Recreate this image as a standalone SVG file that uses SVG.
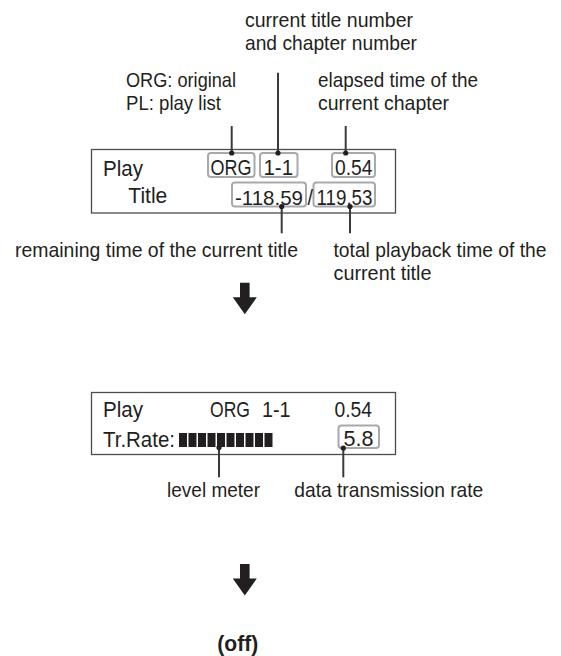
<svg xmlns="http://www.w3.org/2000/svg" width="561" height="656" viewBox="0 0 561 656">
<style>
.lbl{font-family:"Liberation Sans",Arial,sans-serif;font-size:21px;fill:#231f20}
.dsp{font-family:"Liberation Sans",Arial,sans-serif;font-size:22.5px;fill:#231f20}
.off{font-family:"Liberation Sans",Arial,sans-serif;font-size:22px;font-weight:bold;fill:#231f20}
.outer{fill:#fff;stroke:#4d4d4d;stroke-width:1.3}
.inner{fill:none;stroke:#a7a9ac;stroke-width:2}
.ld{stroke:#3a3a3a;stroke-width:2;fill:none}
.dot{fill:#231f20}
.bar{fill:#231f20}
.arrow{fill:#231f20}
</style>
<defs>
<path id="arr" d="M-4.8,0 H4.8 V14.6 H12 L0,31.6 L-12,14.6 H-4.8 Z"/>
</defs>
<rect width="561" height="656" fill="#fff"/>

<g id="labels-top">
<text class="lbl" x="245" y="26.7" textLength="168" lengthAdjust="spacingAndGlyphs">current title number</text>
<text class="lbl" x="245" y="50" textLength="172" lengthAdjust="spacingAndGlyphs">and chapter number</text>
<text class="lbl" x="126" y="87.3" textLength="110" lengthAdjust="spacingAndGlyphs">ORG: original</text>
<text class="lbl" x="126" y="110" textLength="95" lengthAdjust="spacingAndGlyphs">PL: play list</text>
<text class="lbl" x="318" y="87.3" textLength="160" lengthAdjust="spacingAndGlyphs">elapsed time of the</text>
<text class="lbl" x="318" y="110" textLength="131" lengthAdjust="spacingAndGlyphs">current chapter</text>
</g>

<g id="display1">
<rect class="outer" x="91.5" y="149.5" width="304" height="63.5"/>
<rect class="inner" x="208" y="153" width="46.5" height="24" rx="3"/>
<rect class="inner" x="260" y="153" width="37.5" height="24" rx="3"/>
<rect class="inner" x="332" y="153" width="43" height="24" rx="3"/>
<rect class="inner" x="232" y="182.5" width="74" height="24" rx="3"/>
<rect class="inner" x="313.5" y="182.5" width="61.5" height="24" rx="3"/>
<text class="dsp" x="103" y="175.5" textLength="40" lengthAdjust="spacingAndGlyphs">Play</text>
<text class="dsp" x="210.5" y="175" textLength="41" lengthAdjust="spacingAndGlyphs">ORG</text>
<text class="dsp" x="263.5" y="175" textLength="29.5" lengthAdjust="spacingAndGlyphs">1-1</text>
<text class="dsp" x="335" y="175" textLength="37.5" lengthAdjust="spacingAndGlyphs">0.54</text>
<text class="dsp" x="128.3" y="203.3" textLength="39" lengthAdjust="spacingAndGlyphs">Title</text>
<text class="dsp" x="235" y="204.5" textLength="68" lengthAdjust="spacingAndGlyphs" style="font-size:21px">-118.59</text>
<text class="dsp" x="307.5" y="204.5" textLength="5.5" lengthAdjust="spacingAndGlyphs">/</text>
<text class="dsp" x="316.5" y="204.5" textLength="56" lengthAdjust="spacingAndGlyphs">119.53</text>
</g>

<g id="labels-mid">
<text class="lbl" x="15" y="256.7" textLength="283" lengthAdjust="spacingAndGlyphs">remaining time of the current title</text>
<text class="lbl" x="333.5" y="256.7" textLength="213" lengthAdjust="spacingAndGlyphs" style="font-size:20.3px">total playback time of the</text>
<text class="lbl" x="333.5" y="280" textLength="98" lengthAdjust="spacingAndGlyphs">current title</text>
</g>

<g id="display2">
<rect class="outer" x="91.5" y="392.5" width="304" height="62"/>
<rect class="inner" x="338.5" y="425.5" width="40.5" height="22.5" rx="3"/>
<text class="dsp" x="103" y="416.7" textLength="40" lengthAdjust="spacingAndGlyphs">Play</text>
<text class="dsp" x="210" y="416.7" textLength="40" lengthAdjust="spacingAndGlyphs">ORG</text>
<text class="dsp" x="262" y="416.7" textLength="28.5" lengthAdjust="spacingAndGlyphs">1-1</text>
<text class="dsp" x="334.5" y="416.7" textLength="37.5" lengthAdjust="spacingAndGlyphs">0.54</text>
<text class="dsp" x="103" y="446.7" textLength="72" lengthAdjust="spacingAndGlyphs">Tr.Rate:</text>
<text class="dsp" x="343.5" y="446" textLength="30" lengthAdjust="spacingAndGlyphs">5.8</text>
<g id="level-bars">
<rect class="bar" x="179" y="433" width="8" height="14"/>
<rect class="bar" x="188.5" y="433" width="8" height="14"/>
<rect class="bar" x="198" y="433" width="8" height="14"/>
<rect class="bar" x="207.5" y="433" width="8" height="14"/>
<rect class="bar" x="217" y="433" width="8" height="14"/>
<rect class="bar" x="226.5" y="433" width="8" height="14"/>
<rect class="bar" x="236" y="433" width="8" height="14"/>
<rect class="bar" x="245.5" y="433" width="8" height="14"/>
<rect class="bar" x="255" y="433" width="8" height="14"/>
<rect class="bar" x="264.5" y="433" width="8" height="14"/>
</g>
</g>

<g id="labels-bottom">
<text class="lbl" x="167" y="496.7" textLength="93" lengthAdjust="spacingAndGlyphs">level meter</text>
<text class="lbl" x="294.3" y="496.7" textLength="189" lengthAdjust="spacingAndGlyphs">data transmission rate</text>
</g>

<g id="off">
<text class="off" x="217.3" y="651" textLength="41" lengthAdjust="spacingAndGlyphs">(off)</text>
</g>

<g id="connectors">
<line class="ld" x1="231.7" y1="126" x2="231.7" y2="153"/>
<circle class="dot" cx="231.7" cy="153" r="2.6"/>
<line class="ld" x1="278" y1="72.7" x2="278" y2="153"/>
<circle class="dot" cx="278" cy="153" r="2.6"/>
<line class="ld" x1="345.7" y1="126" x2="345.7" y2="153"/>
<circle class="dot" cx="345.7" cy="153" r="2.6"/>
<line class="ld" x1="281.7" y1="206.5" x2="281.7" y2="233.3"/>
<circle class="dot" cx="281.7" cy="206.5" r="2.6"/>
<line class="ld" x1="350" y1="206.5" x2="350" y2="233.3"/>
<circle class="dot" cx="350" cy="206.5" r="2.6"/>
<line class="ld" x1="219" y1="447.5" x2="219" y2="477.3"/>
<circle class="dot" cx="219" cy="447.5" r="2.6"/>
<line class="ld" x1="343.3" y1="448" x2="343.3" y2="477.3"/>
<circle class="dot" cx="343.3" cy="448" r="2.6"/>
<use href="#arr" class="arrow" transform="translate(244.8,282.7)"/>
<use href="#arr" class="arrow" transform="translate(244.8,564)"/>
</g>
</svg>
